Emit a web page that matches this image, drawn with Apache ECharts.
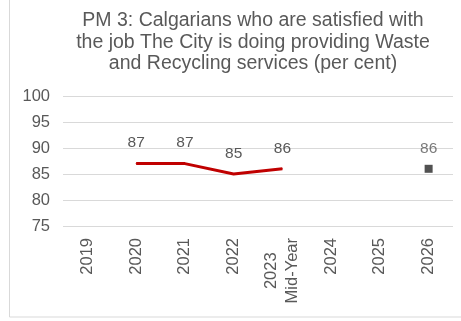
<!DOCTYPE html>
<html><head><meta charset="utf-8">
<script src="https://cdn.jsdelivr.net/npm/echarts@6/dist/echarts.min.js"></script>
<style>html,body{margin:0;padding:0;background:#fff}#c{width:461px;height:321px}</style>
</head><body><div id="c"></div>
<script>
var categories = ['2019', '2020', '2021', '2022', '2023\nMid-Year', '2024', '2025', '2026'];
var actualValues = [null, 87, 87, 85, 86, null, null, null];
var targetValues = [null, null, null, null, null, null, null, 86];
var yTicks = { min: 75, max: 100, interval: 5 };
var titleText = 'PM 3: Calgarians who are satisfied with\nthe job The City is doing providing Waste\nand Recycling services (per cent)';

var font = 'Liberation Sans, Arial, sans-serif';
var chart = echarts.init(document.getElementById('c'), null, { renderer: 'canvas' });
chart.setOption({
  animation: false,
  backgroundColor: '#fff',
  graphic: [{
    type: 'rect', silent: true, z: -1,
    shape: { x: 9.5, y: -10, width: 470, height: 327 },
    style: { fill: 'none', stroke: '#d9d9d9', lineWidth: 1 }
  }],
  title: {
    text: titleText,
    left: 248, top: 5, textAlign: 'center',
    textStyle: { fontFamily: font, fontSize: 19.5, fontWeight: 'normal', color: '#595959', lineHeight: 21.5 }
  },
  grid: { left: 63, right: 8, top: 96, bottom: 95, containLabel: false },
  xAxis: {
    type: 'category', data: categories, boundaryGap: true,
    axisLine: { show: false }, axisTick: { show: false },
    axisLabel: {
      rotate: 90, margin: 12, color: '#595959', fontFamily: font, fontSize: 16.5, interval: 0,
      formatter: function (v) {
        var parts = v.split('\n');
        return parts.map(function (p) { return '{c|' + p + '}'; }).join('\n');
      },
      rich: { c: { align: 'center', fontFamily: font, fontSize: 16.5, color: '#595959', lineHeight: 21 } }
    }
  },
  yAxis: {
    type: 'value', min: yTicks.min, max: yTicks.max, interval: yTicks.interval,
    axisLine: { show: false }, axisTick: { show: false },
    axisLabel: { margin: 13, color: '#595959', fontFamily: font, fontSize: 16.5 },
    splitLine: { lineStyle: { color: '#d9d9d9', width: 1 } }
  },
  series: [{
    type: 'line', data: actualValues, connectNulls: false,
    symbol: 'circle', symbolSize: 1, showSymbol: true,
    itemStyle: { color: '#c00000' },
    lineStyle: { color: '#c00000', width: 3 },
    label: { show: true, position: 'top', distance: 12, color: '#595959', fontFamily: font, fontSize: 15.5 }
  }, {
    type: 'scatter', data: targetValues,
    symbol: 'rect', symbolSize: 8,
    itemStyle: { color: '#262626' },
    label: { show: true, position: 'top', distance: 8.5, color: '#595959', fontFamily: font, fontSize: 15.5 }
  }]
});
</script></body></html>
